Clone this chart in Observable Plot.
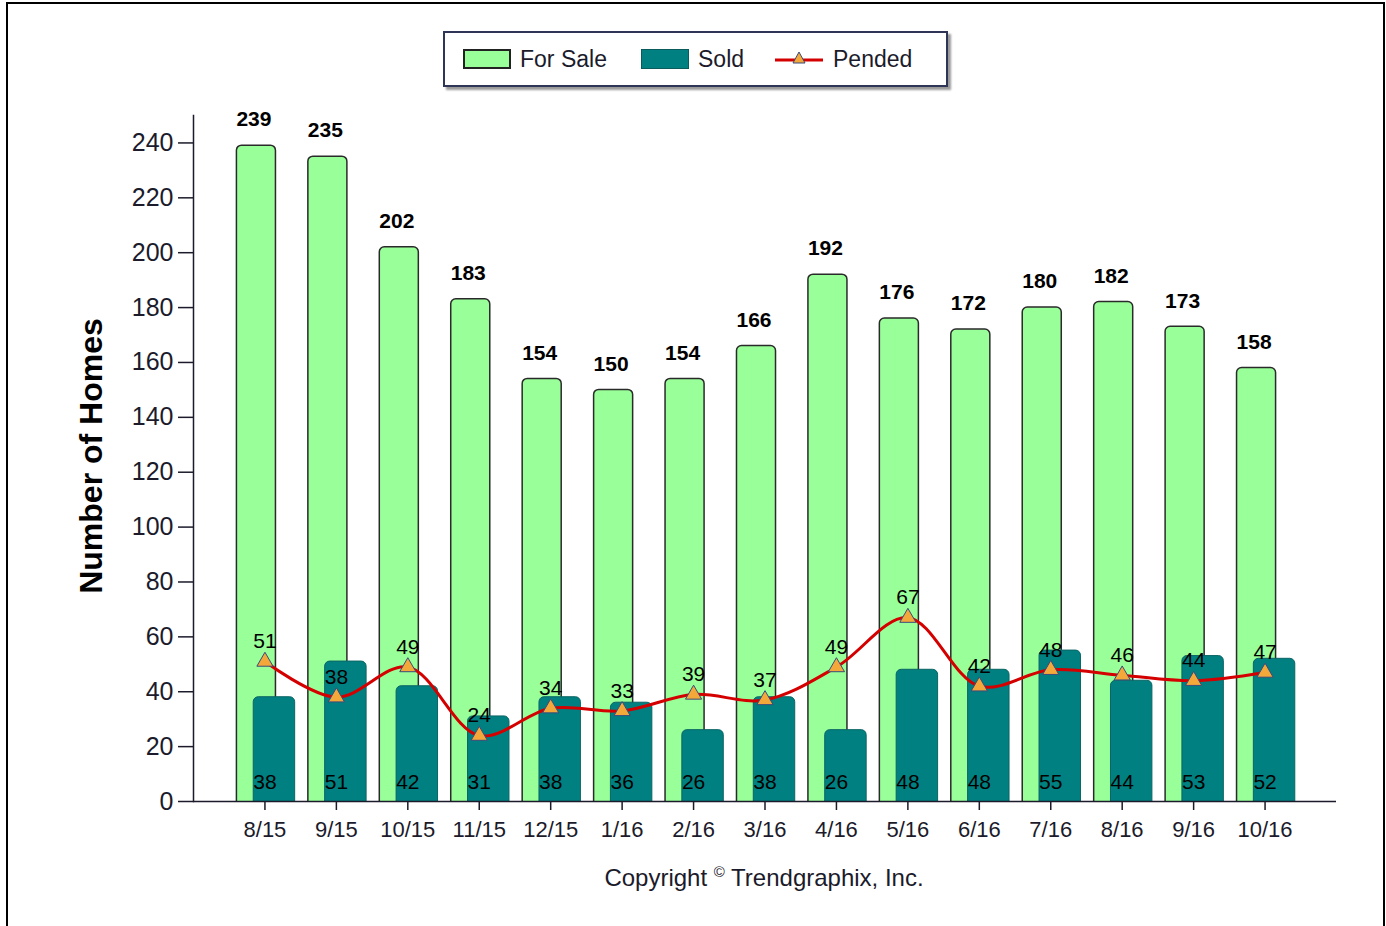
<!DOCTYPE html>
<html>
<head>
<meta charset="utf-8">
<script src="https://cdn.jsdelivr.net/npm/d3@7"></script>
<script src="https://cdn.jsdelivr.net/npm/@observablehq/plot@0.6"></script>
<style>
  html, body { margin: 0; padding: 0; background: #fff; }
  body { width: 1386px; height: 926px; position: relative; overflow: hidden; font-family: "Liberation Sans", Arial, sans-serif; }
  #frame { position: absolute; left: 6px; top: 2px; width: 1379px; height: 940px; border: 2.5px solid #000; box-sizing: border-box; }
  #legend { position: absolute; left: 443px; top: 31px; width: 505px; height: 56px; box-sizing: border-box;
    border: 2px solid #2e3556; background: #fff; box-shadow: 3px 3px 2px #9a9a9a; }
  .item { position: absolute; top: 0; height: 52px; display: flex; align-items: center; font-size: 23px; color: #1b1b2b; }
  .sw { width: 48px; height: 20px; box-sizing: border-box; margin-right: 9px; }
  #chart { position: absolute; left: 0; top: 100px; }
  #ylabel { position: absolute; left: 91px; top: 456px; transform: translate(-50%, -50%) rotate(-90deg); font-weight: bold; font-size: 32px; white-space: nowrap; color: #000; }
  #caption { position: absolute; left: 764px; top: 877px; transform: translate(-50%, -50%); font-size: 24px; color: #1b1b2b; white-space: nowrap; }
  #caption sup { font-size: 15px; }
</style>
</head>
<body>
<div id="frame"></div>
<div id="legend">
  <div class="item" style="left:18px"><div class="sw" style="background:#99ff99;border:2px solid #222"></div>For Sale</div>
  <div class="item" style="left:196px"><div class="sw" style="background:#008080;border:1px solid #0a5c5c"></div>Sold</div>
  <div class="item" style="left:330px">
    <svg width="48" height="20" style="margin-right:10px"><line x1="0" y1="11" x2="48" y2="11" stroke="#d40000" stroke-width="3"/><path d="M24,3 L30,14 L18,14 Z" fill="#f5a83a" stroke="#3b4a7c" stroke-width="1"/></svg>Pended</div>
</div>
<div id="ylabel">Number of Homes</div>
<div id="chart"></div>
<div id="caption">Copyright <sup>©</sup> Trendgraphix, Inc.</div>
<script>
const months = ["8/15","9/15","10/15","11/15","12/15","1/16","2/16","3/16","4/16","5/16","6/16","7/16","8/16","9/16","10/16"];
const forSale = [239,235,202,183,154,150,154,166,192,176,172,180,182,173,158];
const sold = [38,51,42,31,38,36,26,38,26,48,48,55,44,53,52];
const pended = [51,38,49,24,34,33,39,37,49,67,42,48,46,44,47];
const yTicks = [0,20,40,60,80,100,120,140,160,180,200,220,240];

const data = months.map((m, i) => ({month: m, forSale: forSale[i], sold: sold[i], pended: pended[i]}));

const chart = Plot.plot({
  width: 1386,
  height: 800,
  marginLeft: 193,
  marginRight: 50,
  marginTop: 15,
  marginBottom: 99,
  style: {fontFamily: "'Liberation Sans', Arial, sans-serif", background: "transparent", overflow: "visible"},
  x: {type: "band", domain: months, paddingInner: 0, paddingOuter: 0.5, round: false},
  y: {domain: [0, 250]},
  marks: [
    Plot.barY(data, {x: "month", y: "forSale", fill: "#99ff99", stroke: "#2a2a2a", strokeWidth: 1.5,
      insetLeft: 7.7, insetRight: 24.7, insetBottom: -8, rx: 5, clip: true}),
    Plot.barY(data, {x: "month", y: "sold", fill: "#008080", stroke: "#0b6464", strokeWidth: 1,
      insetLeft: 24.5, insetRight: 5.5, insetBottom: -8, rx: 5, clip: true}),
    Plot.lineY(data, {x: "month", y: "pended", stroke: "#d40000", strokeWidth: 3, curve: "catmull-rom"}),
    Plot.dot(data, {x: "month", y: "pended", symbol: "triangle", r: 6, fill: "#f5a83a", stroke: "#3b4a7c", strokeWidth: 1}),
    Plot.text(data, {x: "month", y: "forSale", text: "forSale", dx: -11, dy: -26, fontSize: 21, fontWeight: "bold", fill: "#000"}),
    Plot.text(data, {x: "month", y: "pended", text: "pended", dy: -20, fontSize: 21, fill: "#000"}),
    Plot.text(data, {x: "month", text: "sold", frameAnchor: "bottom", dy: -13, fontSize: 21, fill: "#000"}),
    Plot.ruleY([0], {stroke: "#1b1b2b", strokeWidth: 1.5}),
    Plot.frame({anchor: "left", stroke: "#1b1b2b", strokeWidth: 1.5}),
    Plot.axisY({ticks: yTicks, tickSize: 15, tickPadding: 5, fontSize: 25, label: null, color: "#1b1b2b", strokeWidth: 1.5}),
    Plot.axisX({tickSize: 9, tickPadding: 11, fontSize: 22, label: null, color: "#1b1b2b", strokeWidth: 1.5})
  ]
});
document.getElementById("chart").appendChild(chart);
</script>
</body>
</html>
